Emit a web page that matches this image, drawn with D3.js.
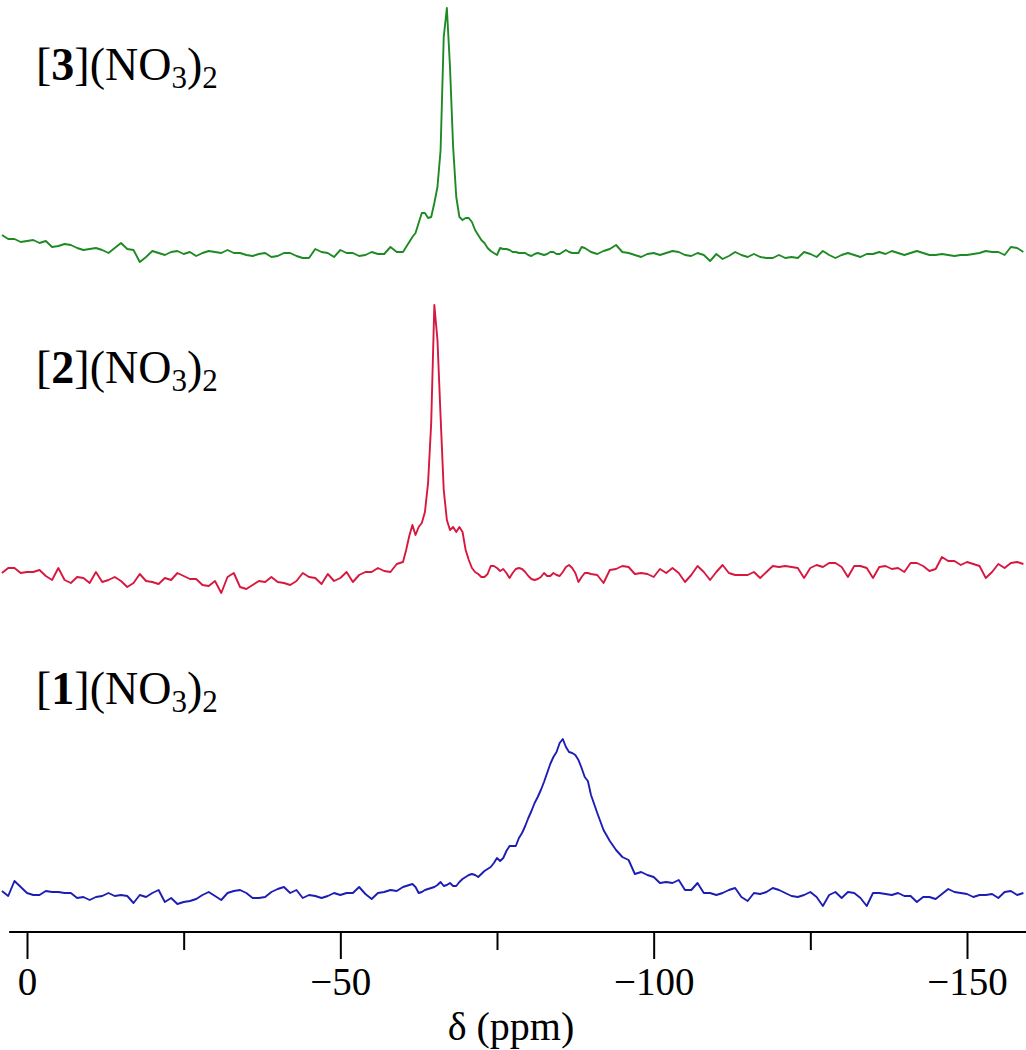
<!DOCTYPE html>
<html>
<head>
<meta charset="utf-8">
<script src="https://cdn.jsdelivr.net/npm/d3@7/dist/d3.min.js"></script>
<style>
  html, body { margin: 0; padding: 0; background: #ffffff; }
  svg { display: block; }
  text { font-family: "Liberation Serif", "Times New Roman", serif; fill: #000; }
</style>
</head>
<body>
<svg id="chart" width="1026" height="1050"></svg>
<script>
// ---------- DATA ----------
// chemical shift sampling grid (ppm): 1 ppm steps, 0.5 ppm steps in the peak region
const ppmGrid = [].concat(
  d3.range(4, -60, -1),
  d3.range(-60, -90, -0.5),
  d3.range(-90, -160, -1)
);

const seriesNames = ["[3](NO3)2", "[2](NO3)2", "[1](NO3)2"];
const compoundNumbers = ["3", "2", "1"];

// intensities (arbitrary units)
const intensity3 = [
  25,21,21,18,19,20,17,19,13,14,16,15,12,10,11,12,10,7,12,17,11,10,-2,3,9,7,5,8,9,6,8,4,7,9,8,7,10,7,7,5,4,6,7,3,4,7,7,4,2,2,11,8,7,3,10,7,7,4,5,8,6,6,13,8,
  8,13,18,23,27,37,47,47,42,43,57,73,110,223,252,193,113,63,43,40,42,42,38,30,25,20,17,12,9,7,5,12,11,11,10,8,8,7,7,7,5,4,6,7,6,5,6,8,8,6,6,8,10,8,7,7,7,13,12,10,
  8,6,9,11,15,8,7,5,3,6,7,5,7,9,8,5,4,7,5,-1,6,1,4,8,5,3,6,3,2,2,5,2,3,2,8,6,3,9,5,2,5,7,5,3,6,6,8,6,9,7,5,7,9,7,5,5,6,5,4,5,5,6,7,9,8,8,5,13,12,8
];
const intensity2 = [
  17,22,22,17,18,18,20,14,10,22,10,7,13,12,7,18,8,10,13,9,3,7,16,9,8,6,12,10,17,14,11,11,5,4,9,-3,13,17,3,1,5,9,8,13,8,7,5,9,17,13,12,6,16,9,12,18,8,15,18,18,22,19,18,26,
  28,40,54,65,55,63,67,78,107,167,285,250,173,100,70,60,63,58,63,58,40,30,22,18,16,13,13,16,24,24,22,19,21,17,12,17,21,22,21,18,14,11,10,11,13,17,14,14,17,15,14,18,23,25,22,17,8,13,17,17,
  16,15,7,20,21,24,23,16,17,16,13,21,17,22,17,8,15,24,18,10,18,25,17,15,15,15,18,12,18,24,23,24,23,22,12,22,25,23,27,27,23,13,24,24,22,12,23,24,21,22,18,27,27,24,19,21,33,29,29,25,28,26,24,12,18,26,22,27,28,26
];
const intensity1 = [
  19,14,29,23,17,15,15,19,18,18,17,17,12,13,10,13,14,17,14,15,14,7,15,13,17,20,8,12,6,8,9,11,15,18,14,10,17,19,20,17,12,12,13,18,21,23,17,20,12,15,14,12,14,17,15,17,17,23,16,11,17,18,20,19,
  23,24,25,26,23,17,18,20,21,22,23,25,28,24,25,27,24,24,28,31,33,35,36,35,33,36,39,41,43,47,52,49,52,59,64,64,64,72,77,84,92,99,107,113,120,128,137,146,153,158,167,171,163,158,157,155,150,142,133,129,
  115,97,80,69,60,53,50,36,38,35,33,27,28,27,30,20,20,27,17,17,15,17,20,22,13,9,17,16,18,22,20,17,14,13,15,18,13,4,15,18,12,18,17,12,4,17,17,16,15,17,14,14,8,13,13,11,16,21,18,17,16,13,15,15,16,12,18,19,15,17
];
const seriesValues = [intensity3, intensity2, intensity1];

const majorTicks = [0, -50, -100, -150];
const allTicks = [0, -25, -50, -75, -100, -125, -150];
const axisTitle = "\u03B4 (ppm)";

// ---------- LAYOUT / STYLE ----------
const colors = ["#1e8a24", "#d8173f", "#1d1db4"];
const baselines = [260, 590, 910];        // pixel y of zero intensity per trace
const labelBaselines = [80, 383, 704];
const labelX = 36;

const svg = d3.select("#chart");

const x = d3.scaleLinear().domain([0, -150]).range([27, 967]);

// traces
seriesValues.forEach((vals, i) => {
  const y = d3.scaleLinear().domain([0, 300]).range([baselines[i], baselines[i] - 300]);
  const line = d3.line()
    .x((d, k) => x(ppmGrid[k]))
    .y(d => y(d));
  svg.append("path")
    .datum(vals)
    .attr("d", line)
    .attr("fill", "none")
    .attr("stroke", colors[i])
    .attr("stroke-width", 1.9)
    .attr("stroke-linejoin", "round");
});

// labels  [n](NO3)2
compoundNumbers.forEach((n, i) => {
  const t = svg.append("text")
    .attr("x", labelX)
    .attr("y", labelBaselines[i])
    .attr("font-size", 46);
  t.append("tspan").text("[");
  t.append("tspan").attr("font-weight", "bold").text(n);
  t.append("tspan").text("](NO");
  t.append("tspan").attr("font-size", 31).attr("dy", 8).text("3");
  t.append("tspan").attr("dy", -8).text(")");
  t.append("tspan").attr("font-size", 31).attr("dy", 8).text("2");
});

// axis
const axisY = 932;
const axisG = svg.append("g").attr("transform", `translate(0,${axisY})`);
axisG.append("line")
  .attr("x1", x(2.85)).attr("x2", x(-160))
  .attr("y1", 0).attr("y2", 0)
  .attr("stroke", "#000").attr("stroke-width", 2);

const axis = d3.axisBottom(x)
  .tickValues(allTicks)
  .tickSize(27)
  .tickSizeOuter(0)
  .tickFormat(d => majorTicks.includes(d) ? (d === 0 ? "0" : "\u2212" + Math.abs(d)) : "");
const ag = axisG.append("g").call(axis);
ag.select(".domain").remove();
ag.selectAll(".tick line")
  .attr("stroke", "#000")
  .attr("stroke-width", 2)
  .attr("y2", d => majorTicks.includes(d) ? 27 : 18);
ag.selectAll(".tick text")
  .attr("y", 63)
  .attr("dy", 0)
  .attr("font-size", 39)
  .attr("font-family", "Liberation Serif, Times New Roman, serif")
  .attr("fill", "#000");

svg.append("text")
  .attr("x", 511)
  .attr("y", 1040)
  .attr("text-anchor", "middle")
  .attr("font-size", 40)
  .text(axisTitle);
</script>
</body>
</html>
